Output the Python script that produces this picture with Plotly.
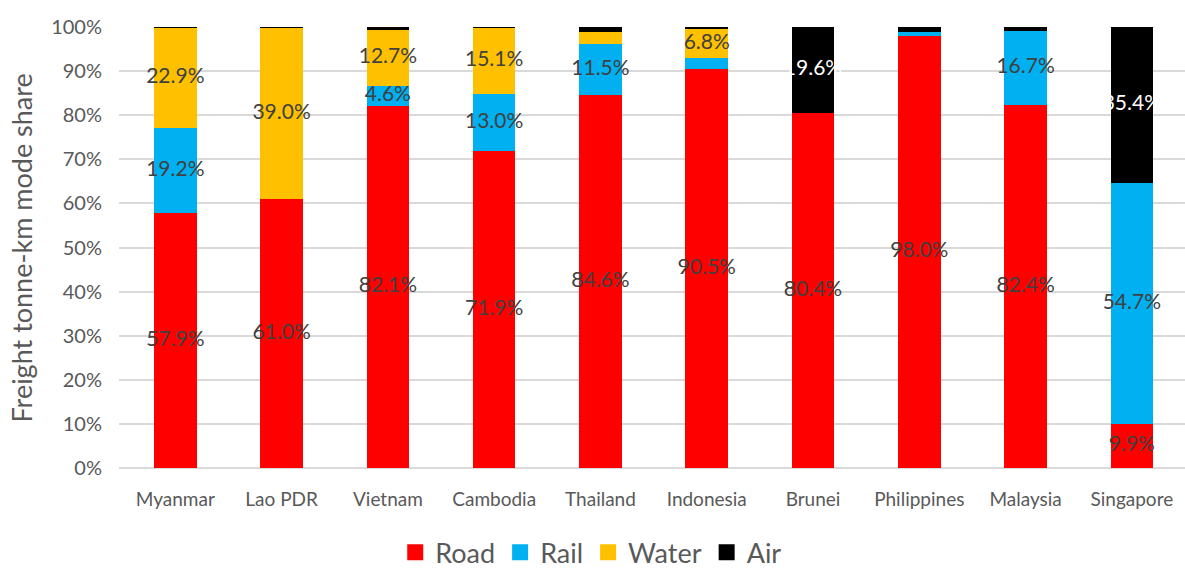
import plotly.graph_objects as go

# Freight tonne-km mode share by country (percent)
countries = ["Myanmar", "Lao PDR", "Vietnam", "Cambodia", "Thailand",
             "Indonesia", "Brunei", "Philippines", "Malaysia", "Singapore"]
road = [57.9, 61.0, 82.1, 71.9, 84.6, 90.5, 80.4, 98.0, 82.4, 9.9]
rail = [19.2, 0.0, 4.6, 13.0, 11.5, 2.4, 0.0, 0.9, 16.7, 54.7]
water = [22.9, 39.0, 12.7, 15.1, 2.8, 6.8, 0.0, 0.0, 0.0, 0.0]
air = [0.1, 0.1, 0.6, 0.1, 1.1, 0.3, 19.6, 1.1, 0.9, 35.4]
y_ticks = list(range(0, 101, 10))

series = [
    ("Road", road, "#FF0000", "#404040"),
    ("Rail", rail, "#00B0F0", "#404040"),
    ("Water", water, "#FFC000", "#404040"),
    ("Air", air, "#000000", "#FFFFFF"),
]

FONT = "Lato"
GREY = "#595959"
LABEL_MIN = 4.0  # smaller segments carry no value label

fig = go.Figure()

for name, vals, color, _ in series:
    fig.add_trace(go.Bar(
        name=name, x=countries, y=vals,
        marker=dict(color=color, line=dict(width=0)),
        hoverinfo="skip", showlegend=False,
    ))

# Legend entries with larger square swatches
for name, _, color, _ in series:
    fig.add_trace(go.Scatter(
        name=name, x=[None], y=[None], mode="markers",
        marker=dict(symbol="square", size=18, color=color),
        showlegend=True, hoverinfo="skip",
    ))

# Value labels centred in each stacked segment
totals = [sum(s[1][i] for s in series) for i in range(len(countries))]
base = [0.0] * len(countries)
for name, vals, color, tcolor in series:
    xs, ys, txt = [], [], []
    for i, v in enumerate(vals):
        if v >= LABEL_MIN:
            xs.append(countries[i])
            ys.append((base[i] + v / 2) / totals[i] * 100)
            txt.append(f"{v:.1f}%")
        base[i] += v
    fig.add_trace(go.Scatter(
        x=xs, y=ys, text=txt, mode="text",
        textfont=dict(family=FONT, size=21, color=tcolor),
        showlegend=False, hoverinfo="skip", cliponaxis=False,
    ))

fig.update_layout(
    width=1185, height=569,
    margin=dict(l=119, r=0, t=27, b=101, autoexpand=False),
    barmode="stack", barnorm="percent", bargap=0.6,
    plot_bgcolor="white", paper_bgcolor="white",
    font=dict(family=FONT, color=GREY),
    showlegend=True,
    legend=dict(
        orientation="h", x=0.443, xanchor="center", y=-0.192, yanchor="middle",
        font=dict(family=FONT, size=27, color=GREY),
        itemsizing="trace", traceorder="normal", itemwidth=30,
    ),
    annotations=[dict(
        text="Freight tonne-km mode share", textangle=-90,
        xref="paper", yref="paper", x=-0.091, y=0.5,
        xanchor="center", yanchor="middle", showarrow=False,
        font=dict(family=FONT, size=27, color=GREY),
    )],
)

fig.update_xaxes(
    range=[-0.53, 9.5], showgrid=False, showline=False, ticks="",
    tickfont=dict(family=FONT, size=19, color=GREY),
    ticklabelstandoff=18,
)
fig.update_yaxes(
    range=[0, 100], tickmode="array", tickvals=y_ticks,
    ticktext=[f"{t}%" for t in y_ticks],
    showgrid=True, gridcolor="#D9D9D9", gridwidth=1.5,
    zeroline=True, zerolinecolor="#D9D9D9", zerolinewidth=1.5,
    showline=False, ticks="",
    tickfont=dict(family=FONT, size=20, color=GREY),
    ticklabelstandoff=16,
)

fig.write_html("out.html")
